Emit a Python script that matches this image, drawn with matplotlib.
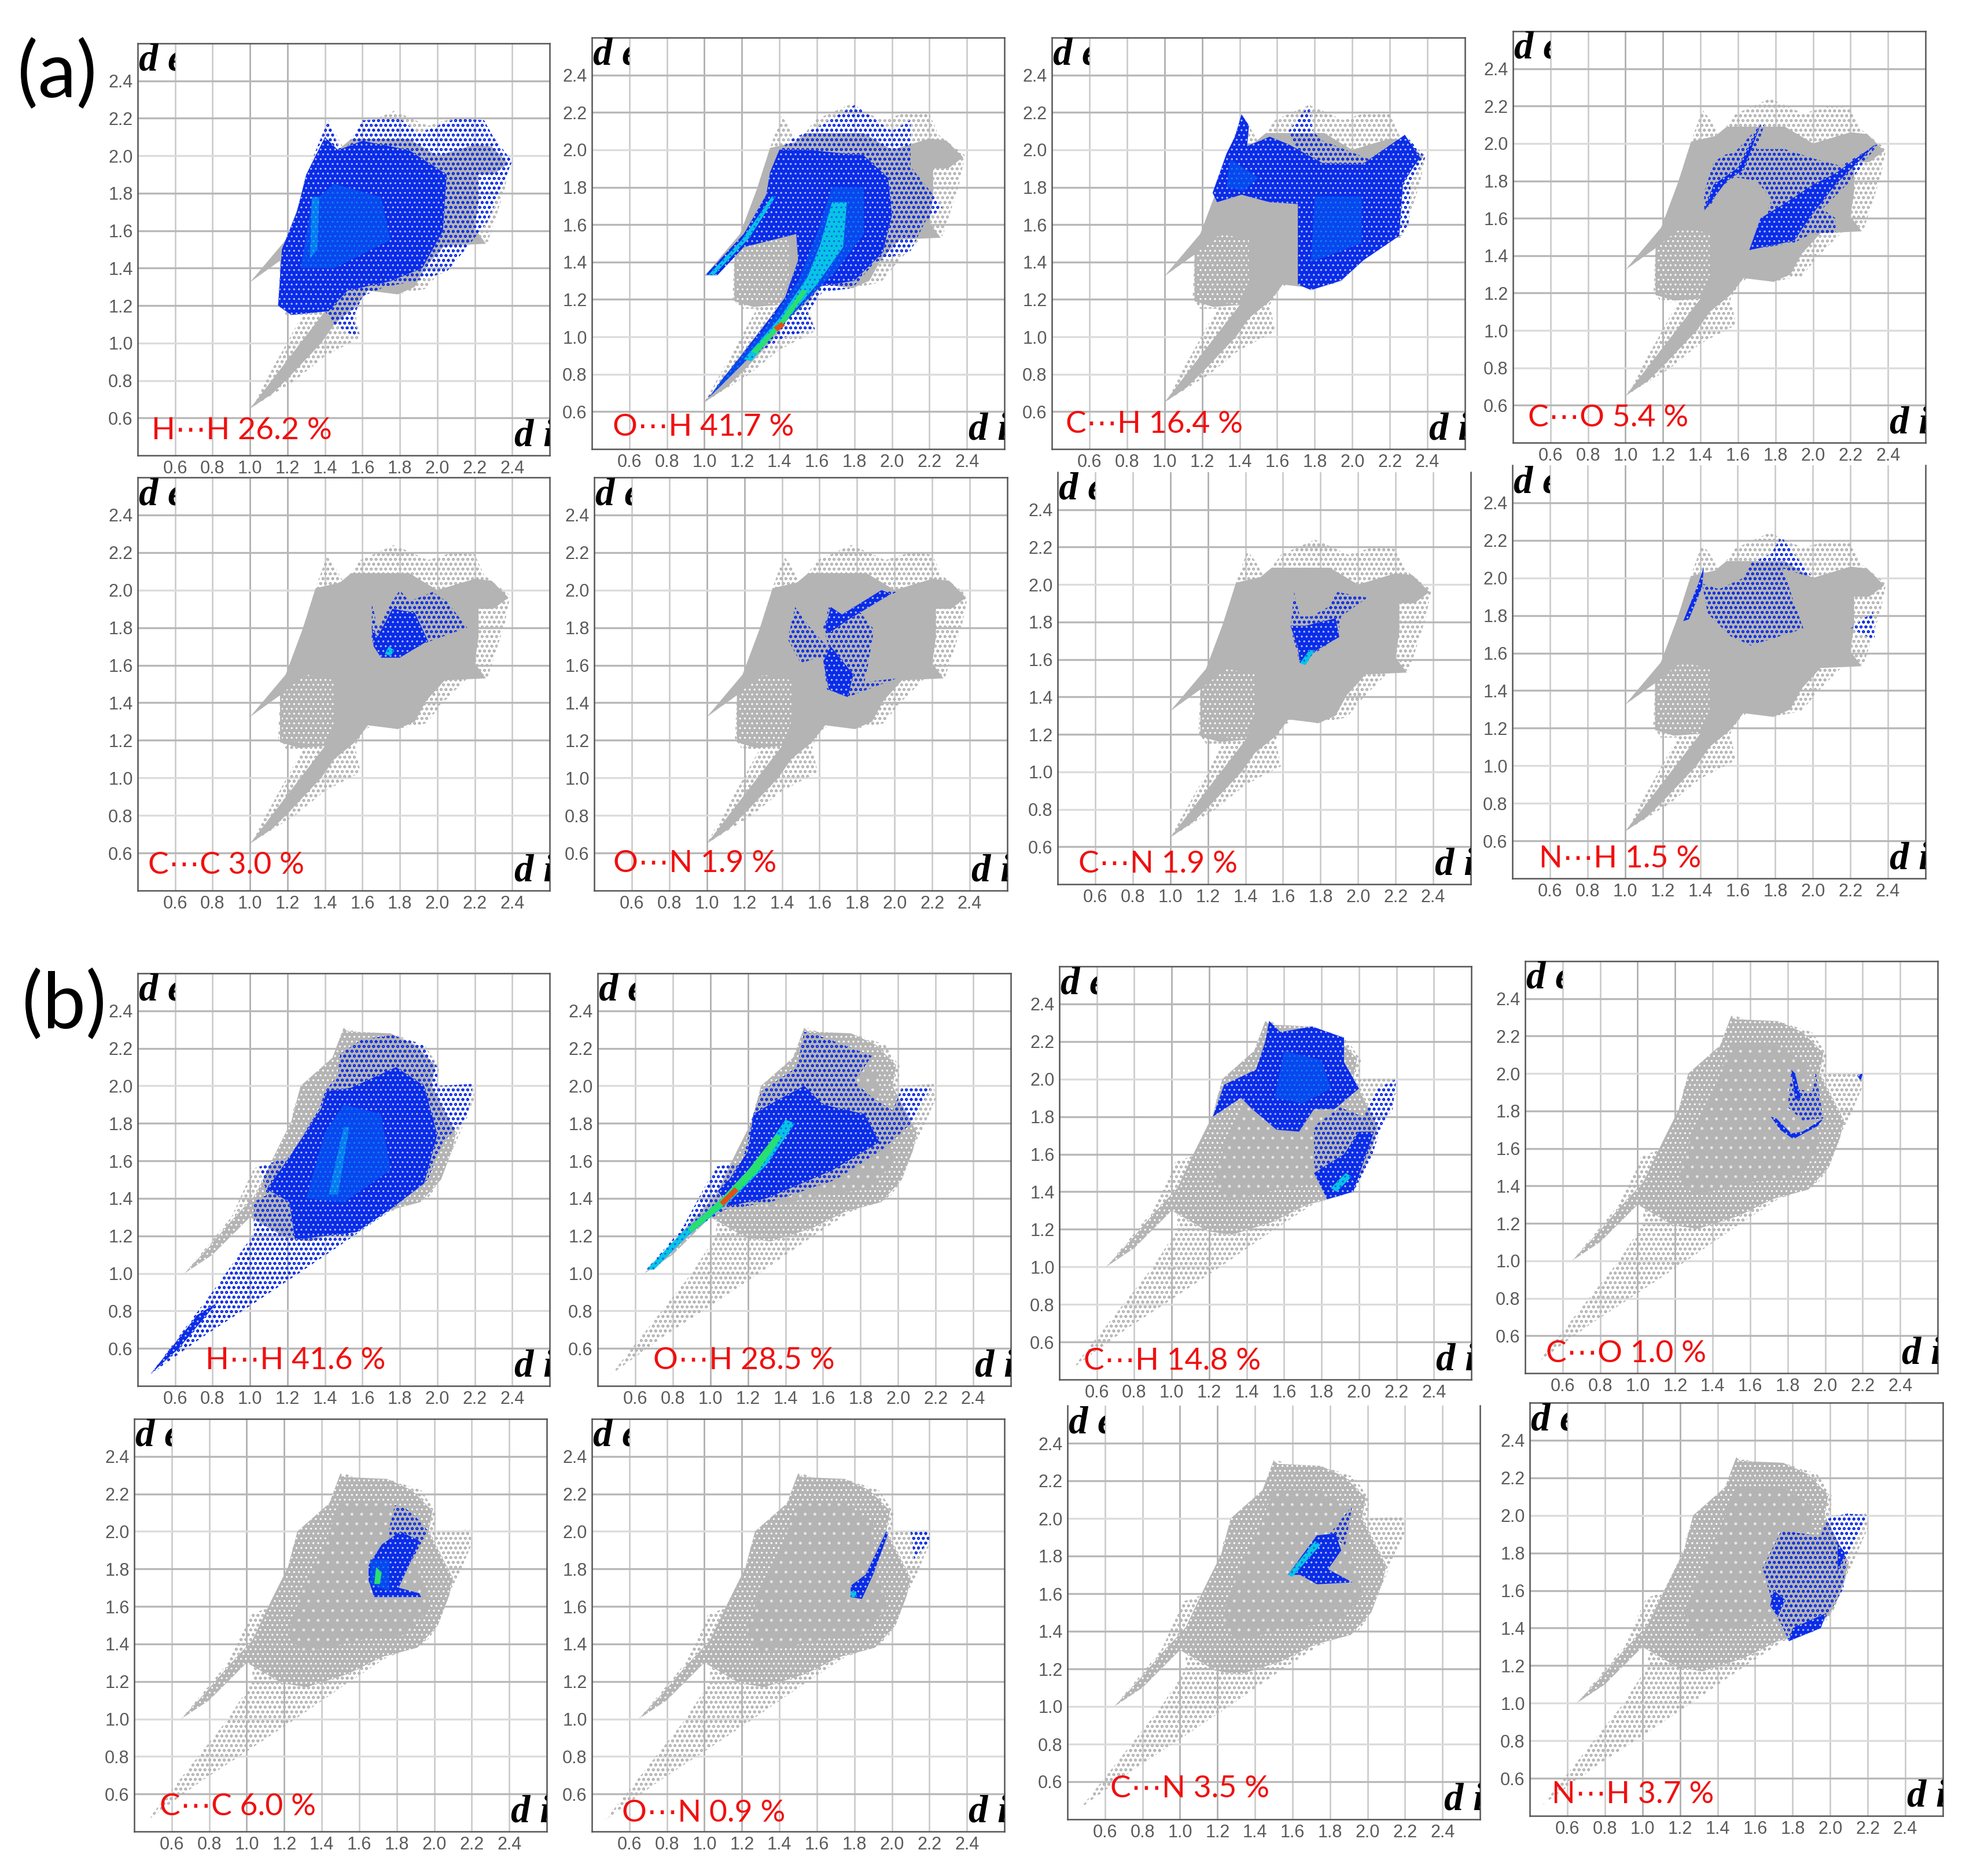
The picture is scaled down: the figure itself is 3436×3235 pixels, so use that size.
import matplotlib
matplotlib.use('Agg')
from matplotlib import pyplot as plt
from matplotlib.transforms import Bbox, TransformedBbox

# Fingerprint outlines (di, de).
grey_a_outer = [(1.0, 0.65), (1.24, 0.8), (1.4, 0.93), (1.59, 1.03), (1.56, 1.17), (1.6, 1.24), (1.66, 1.29), (1.78, 1.26),
                (1.94, 1.29), (2.03, 1.4), (2.16, 1.53), (2.27, 1.54), (2.3, 1.63), (2.36, 1.82), (2.39, 1.97),
                (2.25, 2.08), (2.2, 2.19), (2.08, 2.2), (1.95, 2.16), (1.77, 2.24), (1.59, 2.16), (1.5, 2.04),
                (1.45, 2.13), (1.41, 2.18), (1.36, 2.04), (1.28, 1.79), (1.22, 1.58), (1.0, 1.325), (1.16, 1.44),
                (1.15, 1.21), (1.19, 1.15), (1.28, 1.15)]
grey_a_core = [(1.0, 0.65), (1.12, 0.73), (1.22, 0.83), (1.38, 1.0), (1.45, 1.1), (1.56, 1.19), (1.63, 1.28), (1.79, 1.26),
               (1.88, 1.3), (1.94, 1.41), (2.04, 1.52), (2.26, 1.53), (2.2, 1.61), (2.22, 1.75), (2.22, 1.9), (2.3, 1.9),
               (2.38, 1.96), (2.29, 2.05), (2.2, 2.06), (2.0, 2.0), (1.85, 2.09), (1.54, 2.09), (1.48, 2.04), (1.35, 2.01),
               (1.28, 1.79), (1.19, 1.55), (1.0, 1.325), (1.16, 1.44), (1.16, 1.19), (1.26, 1.16), (1.4, 1.17)]
grey_a_speck = [(1.17, 1.2), (1.17, 1.45), (1.3, 1.55), (1.45, 1.52), (1.45, 1.3), (1.4, 1.17)]
grey_b_outer = [(0.47, 0.46), (0.9, 1.0), (1.03, 1.2), (1.03, 1.33), (0.9, 1.2), (0.65, 1.0), (0.9, 1.3), (1.02, 1.56),
                (1.2, 1.62), (1.23, 1.87), (1.27, 1.98), (1.48, 2.12), (1.52, 2.31), (1.59, 2.28), (1.78, 2.27),
                (1.93, 2.22), (2.01, 2.1), (2.0, 2.0), (2.19, 2.01), (2.2, 1.93), (2.1, 1.7), (2.0, 1.47),
                (1.95, 1.4), (1.75, 1.33), (1.55, 1.2), (1.26, 1.0), (0.99, 0.82), (0.76, 0.67)]
grey_b_core = [(0.65, 1.0), (0.8, 1.1), (1.0, 1.3), (1.19, 1.19), (1.32, 1.17), (1.54, 1.24), (1.72, 1.33),
               (1.91, 1.38), (2.02, 1.5), (2.08, 1.66), (2.1, 1.75), (1.97, 2.0), (1.99, 2.11), (1.88, 2.22),
               (1.75, 2.28), (1.52, 2.29), (1.5, 2.31), (1.44, 2.15), (1.27, 2.0), (1.22, 1.81), (1.13, 1.63),
               (1.03, 1.42), (0.9, 1.28), (0.78, 1.14)]
grey_b_solid = [(1.22, 1.45), (1.3, 1.7), (1.42, 1.95), (1.5, 2.15), (1.75, 2.15), (1.9, 2.05), (1.9, 1.85), (1.98, 1.6),
                (1.85, 1.45), (1.6, 1.42), (1.3, 1.35)]

# Contact regions, panels (a)
hh_a_dots = [(1.15, 1.2), (1.22, 1.15), (1.4, 1.17), (1.45, 1.1), (1.55, 1.04), (1.58, 1.05), (1.55, 1.13), (1.6, 1.25),
             (1.72, 1.3), (1.88, 1.33), (2.05, 1.38), (2.15, 1.5), (2.27, 1.65), (2.35, 1.85), (2.4, 1.97), (2.3, 2.1),
             (2.25, 2.19), (2.1, 2.2), (1.9, 2.12), (1.8, 2.2), (1.6, 2.19), (1.52, 2.05), (1.47, 2.05), (1.42, 2.19),
             (1.38, 2.1), (1.3, 1.9), (1.25, 1.7), (1.17, 1.5)]
hh_a_dense = [(1.15, 1.2), (1.22, 1.15), (1.42, 1.17), (1.52, 1.28), (1.75, 1.33), (1.92, 1.4), (2.03, 1.6), (2.05, 1.9),
              (1.85, 2.03), (1.6, 2.08), (1.47, 2.03), (1.4, 2.1), (1.3, 1.9), (1.25, 1.7), (1.17, 1.5)]
hh_a_mid = [(1.27, 1.4), (1.33, 1.75), (1.45, 1.85), (1.7, 1.78), (1.75, 1.55), (1.45, 1.4)]
hh_a_hot = [(1.32, 1.45), (1.33, 1.78), (1.37, 1.78), (1.36, 1.5)]

oh_a_dots = [(1.006, 0.66), (1.21, 0.87), (1.43, 1.0), (1.59, 1.04), (1.55, 1.13), (1.63, 1.24), (1.79, 1.26),
             (1.91, 1.4), (2.1, 1.46), (2.18, 1.62), (2.27, 1.69), (2.22, 1.76), (2.1, 1.91), (2.1, 2.16), (2.0, 2.1),
             (1.8, 2.24), (1.62, 2.13), (1.47, 2.06), (1.4, 2.0), (1.35, 1.88), (1.33, 1.76), (1.21, 1.55),
             (1.006, 1.33), (1.07, 1.33), (1.21, 1.48), (1.49, 1.55), (1.5, 1.41), (1.43, 1.21), (1.35, 1.1)]
oh_a_dense = [(1.02, 0.67), (1.21, 0.9), (1.42, 1.17), (1.62, 1.27), (1.8, 1.3), (1.95, 1.45), (2.0, 1.65), (1.98, 1.85),
              (1.85, 1.97), (1.55, 2.0), (1.4, 2.0), (1.35, 1.88), (1.33, 1.76), (1.21, 1.55), (1.006, 1.33),
              (1.07, 1.33), (1.21, 1.48), (1.49, 1.55), (1.5, 1.41), (1.43, 1.21), (1.35, 1.1)]
oh_a_mid = [(1.1, 0.78), (1.35, 1.08), (1.5, 1.3), (1.6, 1.55), (1.68, 1.8), (1.85, 1.8), (1.85, 1.55), (1.7, 1.35),
            (1.5, 1.15), (1.3, 0.95), (1.03, 0.68)]
oh_a_cyan = [(1.21, 0.88), (1.4, 1.1), (1.55, 1.32), (1.62, 1.5), (1.68, 1.72), (1.76, 1.72), (1.74, 1.48), (1.6, 1.28),
             (1.42, 1.07), (1.25, 0.87)]
oh_a_ridge = [(1.02, 1.33), (1.2, 1.52), (1.36, 1.75), (1.38, 1.75), (1.24, 1.53), (1.05, 1.33)]
oh_a_green = [(1.25, 0.92), (1.4, 1.08), (1.52, 1.25), (1.55, 1.25), (1.44, 1.09), (1.28, 0.91)]
oh_a_red = [(1.37, 1.05), (1.41, 1.08), (1.43, 1.06), (1.39, 1.03)]

ch_a_dots = [(1.66, 2.1), (1.77, 2.24), (1.79, 2.1), (1.84, 2.05), (2.09, 1.95), (2.28, 2.08), (2.39, 1.96), (2.31, 1.82),
             (2.3, 1.6), (2.25, 1.54), (2.06, 1.41), (1.94, 1.3), (1.9, 1.7), (1.7, 2.0)]
ch_a_dense = [(1.256, 1.77), (1.33, 1.98), (1.375, 2.07), (1.41, 2.19), (1.45, 2.13), (1.44, 2.02), (1.56, 2.07),
              (1.66, 2.03), (1.84, 1.93), (2.05, 1.92), (2.28, 2.08), (2.36, 1.96), (2.27, 1.82), (2.25, 1.54),
              (2.06, 1.41), (1.94, 1.3), (1.78, 1.25), (1.71, 1.28), (1.71, 1.71), (1.56, 1.72), (1.41, 1.76),
              (1.28, 1.72)]
ch_a_mid = [(1.33, 1.8), (1.35, 1.95), (1.5, 1.85), (1.42, 1.78)]
ch_a_mid2 = [(1.78, 1.4), (1.8, 1.75), (2.05, 1.75), (2.05, 1.5)]

co_a_dots = [(1.42, 1.64), (1.42, 1.74), (1.47, 1.9), (1.53, 1.94), (1.58, 1.95), (1.72, 2.1), (1.74, 2.1), (1.7, 1.97),
             (1.85, 1.97), (2.0, 1.92), (2.15, 1.88), (2.35, 2.0), (2.2, 1.8), (2.05, 1.65), (2.12, 1.6), (2.12, 1.52),
             (2.0, 1.52), (1.9, 1.47), (1.66, 1.43), (1.72, 1.55), (1.78, 1.7), (1.7, 1.8), (1.58, 1.82), (1.5, 1.76),
             (1.46, 1.68)]
co_a_dense = [(1.66, 1.43), (1.72, 1.6), (1.85, 1.68), (2.0, 1.78), (2.12, 1.84), (2.34, 2.0), (2.12, 1.78), (1.98, 1.6),
              (1.9, 1.48)]
co_a_dense2 = [(1.42, 1.64), (1.47, 1.78), (1.6, 1.87), (1.72, 2.1), (1.63, 1.86), (1.54, 1.8), (1.45, 1.68)]

cc_a_dots = [(1.65, 1.94), (1.65, 1.74), (1.68, 1.66), (1.79, 1.64), (1.94, 1.72), (2.16, 1.8), (2.05, 1.94), (1.975, 1.99),
             (1.85, 1.94), (1.8, 2.0), (1.74, 1.91), (1.68, 1.8)]
cc_a_dense = [(1.65, 1.8), (1.66, 1.7), (1.7, 1.64), (1.8, 1.64), (1.95, 1.73), (1.88, 1.88), (1.76, 1.9), (1.68, 1.75)]
cc_a_hot = [(1.72, 1.66), (1.74, 1.7), (1.77, 1.68), (1.75, 1.65)]

on_a_dots = [(1.47, 1.91), (1.43, 1.74), (1.5, 1.61), (1.59, 1.64), (1.62, 1.63), (1.64, 1.47), (1.75, 1.43), (2.01, 1.53),
             (1.84, 1.51), (1.86, 1.61), (1.89, 1.79), (1.81, 1.89), (2.01, 1.99), (1.93, 2.0), (1.7, 1.86), (1.65, 1.91),
             (1.62, 1.8), (1.65, 1.69), (1.55, 1.8)]
on_a_dense = [(1.63, 1.8), (1.66, 1.91), (1.72, 1.87), (1.93, 2.0), (1.98, 1.98), (1.75, 1.84), (1.65, 1.77)]
on_a_dense2 = [(1.62, 1.62), (1.65, 1.47), (1.75, 1.43), (1.78, 1.55), (1.66, 1.7)]

cn_a_dots = [(1.66, 1.96), (1.64, 1.77), (1.69, 1.58), (1.78, 1.64), (1.89, 1.72), (1.91, 1.83), (2.05, 1.93), (1.89, 1.96),
             (1.84, 1.88), (1.75, 1.83), (1.69, 1.83)]
cn_a_dense = [(1.64, 1.78), (1.68, 1.66), (1.69, 1.58), (1.78, 1.65), (1.9, 1.72), (1.88, 1.82), (1.72, 1.78)]
cn_a_hot = [(1.69, 1.58), (1.74, 1.65), (1.77, 1.65), (1.72, 1.57)]

nh_a_dots = [(1.41, 1.97), (1.44, 1.81), (1.56, 1.69), (1.67, 1.64), (1.95, 1.73), (1.91, 1.84), (1.84, 2.05), (2.0, 2.0),
             (1.83, 2.22), (1.78, 2.13), (1.67, 2.08), (1.63, 2.0), (1.5, 1.94)]
nh_a_streak = [(1.31, 1.77), (1.39, 1.97), (1.42, 2.06), (1.41, 1.95), (1.34, 1.78)]
nh_a_dots2 = [(2.2, 1.73), (2.32, 1.82), (2.33, 1.67)]

# Contact regions, panels (b)
hh_b_dots = [(0.47, 0.465), (0.82, 0.93), (1.02, 1.21), (1.02, 1.38), (1.09, 1.42), (1.05, 1.57), (1.21, 1.62), (1.37, 1.88),
             (1.4, 1.97), (1.47, 2.06), (1.48, 2.17), (1.6, 2.25), (1.76, 2.27), (1.92, 2.22), (2.0, 2.1), (2.0, 2.0),
             (2.19, 2.01), (2.16, 1.83), (2.03, 1.7), (1.95, 1.5), (1.78, 1.36), (1.54, 1.19), (1.26, 1.0), (0.99, 0.82),
             (0.76, 0.67)]
hh_b_dense = [(1.21, 1.62), (1.38, 1.88), (1.41, 1.97), (1.54, 1.99), (1.78, 2.1), (1.93, 2.0), (2.0, 1.74), (1.93, 1.48),
              (1.76, 1.35), (1.57, 1.22), (1.24, 1.18), (1.21, 1.38), (1.09, 1.45)]
hh_b_mid = [(1.3, 1.4), (1.4, 1.75), (1.5, 1.9), (1.7, 1.85), (1.75, 1.55), (1.5, 1.38)]
hh_b_hot = [(1.42, 1.42), (1.47, 1.65), (1.5, 1.78), (1.53, 1.78), (1.5, 1.6), (1.47, 1.42)]
hh_b_tip = [(0.47, 0.465), (0.72, 0.78), (0.82, 0.84), (0.62, 0.6)]

oh_b_dots = [(0.65, 1.01), (0.85, 1.24), (1.03, 1.57), (1.17, 1.59), (1.22, 1.82), (1.27, 1.97), (1.46, 2.1), (1.5, 2.29),
             (1.63, 2.25), (1.86, 2.16), (1.77, 2.02), (1.86, 1.94), (1.97, 1.87), (2.02, 1.99), (2.18, 2.0), (2.07, 1.8),
             (1.93, 1.67), (1.67, 1.5), (1.32, 1.38), (1.08, 1.34), (0.85, 1.2), (0.68, 1.01)]
oh_b_dense = [(1.2, 1.65), (1.23, 1.85), (1.35, 1.92), (1.5, 2.0), (1.6, 1.9), (1.82, 1.85), (1.9, 1.7), (1.65, 1.55),
              (1.3, 1.4), (1.1, 1.36), (1.04, 1.44), (1.1, 1.5)]
oh_b_ridge = [(0.66, 1.02), (0.85, 1.22), (1.05, 1.39), (1.25, 1.6), (1.4, 1.82), (1.45, 1.8), (1.3, 1.58), (1.1, 1.38),
              (0.88, 1.2), (0.7, 1.02)]
oh_b_green = [(0.88, 1.24), (1.05, 1.39), (1.2, 1.55), (1.35, 1.74), (1.38, 1.73), (1.25, 1.54), (1.08, 1.37), (0.9, 1.22)]
oh_b_red = [(1.05, 1.38), (1.13, 1.46), (1.15, 1.44), (1.07, 1.36)]

ch_b_dense = [(1.22, 1.8), (1.28, 1.97), (1.45, 2.05), (1.5, 2.2), (1.52, 2.31), (1.58, 2.25), (1.75, 2.28), (1.92, 2.22),
              (1.92, 2.09), (2.0, 1.95), (1.87, 1.84), (1.76, 1.84), (1.68, 1.72), (1.56, 1.73), (1.43, 1.84), (1.37, 1.9)]
ch_b_dots = [(1.76, 1.75), (1.76, 1.53), (1.83, 1.36), (1.97, 1.4), (2.06, 1.56), (2.12, 1.75), (2.18, 1.84), (2.2, 2.0),
             (2.1, 1.95), (2.02, 1.8), (1.9, 1.85)]
ch_b_dense2 = [(1.76, 1.5), (1.83, 1.36), (1.97, 1.4), (2.08, 1.72), (2.0, 1.72), (1.92, 1.6)]
ch_b_mid = [(1.55, 1.9), (1.6, 2.15), (1.8, 2.1), (1.85, 1.95), (1.7, 1.87)]
ch_b_hot = [(1.85, 1.42), (1.93, 1.5), (1.96, 1.48), (1.88, 1.4)]

co_b_dots = [(1.82, 2.02), (1.84, 1.92), (1.93, 1.9), (1.95, 2.01), (1.99, 1.76), (1.88, 1.75), (1.8, 1.82)]
co_b_dense = [(1.71, 1.77), (1.76, 1.7), (1.83, 1.65), (1.96, 1.72), (1.99, 1.76), (1.88, 1.69), (1.82, 1.68), (1.74, 1.76)]
co_b_dense2 = [(1.82, 2.02), (1.84, 1.86), (1.87, 1.87), (1.84, 2.0)]
co_b_dense3 = [(2.17, 1.99), (2.2, 2.0), (2.19, 1.96)]

cc_b_dots = [(1.76, 2.02), (1.79, 2.14), (1.84, 2.13), (1.9, 2.08), (1.97, 2.0), (1.87, 1.83), (1.76, 1.85)]
cc_b_dense = [(1.65, 1.82), (1.65, 1.74), (1.68, 1.65), (1.93, 1.65), (1.92, 1.67), (1.81, 1.7), (1.87, 1.83), (1.92, 1.95),
              (1.82, 2.0), (1.72, 1.93)]
cc_b_mid = [(1.66, 1.72), (1.66, 1.85), (1.76, 1.85), (1.76, 1.68)]
cc_b_hot = [(1.68, 1.72), (1.69, 1.81), (1.72, 1.78), (1.71, 1.72)]

on_b_dense = [(1.78, 1.65), (1.78, 1.71), (1.86, 1.77), (1.97, 2.0), (1.98, 1.99), (1.9, 1.77), (1.84, 1.64)]
on_b_hot = [(1.78, 1.65), (1.78, 1.68), (1.81, 1.68), (1.81, 1.65)]
on_b_dots = [(2.1, 2.0), (2.2, 2.0), (2.2, 1.95), (2.12, 1.85)]

cn_b_dense = [(1.575, 1.7), (1.73, 1.91), (1.83, 1.92), (1.86, 1.83), (1.79, 1.73), (1.92, 1.66), (1.73, 1.65), (1.64, 1.7)]
cn_b_dots = [(1.8, 1.92), (1.92, 2.07), (1.88, 1.85)]
cn_b_hot = [(1.575, 1.7), (1.72, 1.88), (1.75, 1.86), (1.6, 1.69)]

nh_b_dots = [(1.74, 1.92), (1.64, 1.72), (1.7, 1.5), (1.78, 1.33), (1.95, 1.4), (2.07, 1.61), (2.09, 1.79), (2.2, 2.0),
             (2.09, 2.01), (1.98, 1.98), (1.95, 1.89)]
nh_b_dense = [(1.78, 1.33), (1.95, 1.4), (1.98, 1.48), (1.8, 1.4)]
nh_b_dense2 = [(1.68, 1.52), (1.72, 1.46), (1.76, 1.55), (1.7, 1.6)]
nh_b_dense3 = [(2.04, 1.7), (2.08, 1.8), (2.04, 1.85)]

contact_labels = ['H\u22efH 26.2 %', 'O\u22efH 41.7 %', 'C\u22efH 16.4 %', 'C\u22efO 5.4 %',
                  'C\u22efC 3.0 %', 'O\u22efN 1.9 %', 'C\u22efN 1.9 %', 'N\u22efH 1.5 %',
                  'H\u22efH 41.6 %', 'O\u22efH 28.5 %', 'C\u22efH 14.8 %', 'C\u22efO 1.0 %',
                  'C\u22efC 6.0 %', 'O\u22efN 0.9 %', 'C\u22efN 3.5 %', 'N\u22efH 3.7 %']
tick_values = [0.6, 0.8, 1.0, 1.2, 1.4, 1.6, 1.8, 2.0, 2.2, 2.4]

panel_regions = [
    [('blue_dots', hh_a_dots), ('blue', hh_a_dense), ('mid', hh_a_mid), ('light', hh_a_hot)],
    [('blue_dots', oh_a_dots), ('blue', oh_a_dense), ('mid', oh_a_mid), ('cyan', oh_a_cyan), ('cyan', oh_a_ridge),
     ('green', oh_a_green), ('red', oh_a_red)],
    [('blue_dots', ch_a_dots), ('blue', ch_a_dense), ('mid', ch_a_mid), ('mid', ch_a_mid2)],
    [('blue_dots', co_a_dots), ('blue', co_a_dense), ('blue', co_a_dense2)],
    [('blue_dots', cc_a_dots), ('blue', cc_a_dense), ('cyan', cc_a_hot)],
    [('blue_dots', on_a_dots), ('blue', on_a_dense), ('blue', on_a_dense2)],
    [('blue_dots', cn_a_dots), ('blue', cn_a_dense), ('cyan', cn_a_hot)],
    [('blue_dots', nh_a_dots), ('blue', nh_a_streak), ('blue_dots', nh_a_dots2)],
    [('blue_dots', hh_b_dots), ('blue', hh_b_dense), ('mid', hh_b_mid), ('light', hh_b_hot), ('blue', hh_b_tip)],
    [('blue_dots', oh_b_dots), ('blue', oh_b_dense), ('cyan', oh_b_ridge), ('green', oh_b_green), ('red', oh_b_red)],
    [('blue', ch_b_dense), ('mid', ch_b_mid), ('blue_dots', ch_b_dots), ('blue', ch_b_dense2), ('cyan', ch_b_hot)],
    [('blue_dots', co_b_dots), ('blue', co_b_dense), ('blue', co_b_dense2), ('blue', co_b_dense3)],
    [('blue_dots', cc_b_dots), ('blue', cc_b_dense), ('mid', cc_b_mid), ('green', cc_b_hot)],
    [('blue', on_b_dense), ('cyan', on_b_hot), ('blue_dots', on_b_dots)],
    [('blue', cn_b_dense), ('blue_dots', cn_b_dots), ('cyan', cn_b_hot)],
    [('blue_dots', nh_b_dots), ('blue', nh_b_dense), ('blue', nh_b_dense2), ('blue', nh_b_dense3)],
]

# Layout in pixels of the picture: left, right, top, bottom of each box
W, H = 3437, 3235
boxes = [(238, 950, 75, 787), (1023, 1736, 65, 776), (1818, 2532, 65, 776), (2615, 3328, 54, 765),
         (238, 950, 825, 1539), (1027, 1741, 825, 1539), (1828, 2542, 816, 1528), (2614, 3328, 804, 1518),
         (238, 950, 1682, 2395), (1033, 1747, 1682, 2395), (1831, 2543, 1670, 2384), (2636, 3349, 1661, 2373),
         (232, 945, 2452, 3165), (1023, 1736, 2452, 3165), (1845, 2558, 2429, 3144), (2644, 3358, 2424, 3138)]
label_xy = [(262, 759), (1059, 753), (1842, 748), (2641, 737),
            (256, 1510), (1060, 1507), (1864, 1508), (2660, 1499),
            (355, 2366), (1129, 2366), (1873, 2367), (2672, 2354),
            (276, 3137), (1075, 3148), (1919, 3106), (2682, 3116)]
open_top = [6, 7, 14]

GREY = '#b4b4b4'
BLUE = '#0a2ce8'
styles = {
    'grey_dots': dict(facecolor='none', edgecolor=GREY, hatch='oo'),
    'grey_speck': dict(facecolor=GREY, edgecolor='white', hatch='..'),
    'grey_few': dict(facecolor=GREY, edgecolor='#e6e6e6', hatch='.'),
    'grey': dict(facecolor=GREY, edgecolor=GREY),
    'blue_dots': dict(facecolor='none', edgecolor=BLUE, hatch='oo'),
    'blue': dict(facecolor=BLUE, edgecolor='#b4c0fa', hatch='..'),
    'mid': dict(facecolor='#0a46ee', edgecolor='#0a84f2', hatch='..'),
    'light': dict(facecolor='#0a78f2', edgecolor='#10c0ea', hatch='..'),
    'cyan': dict(facecolor='#08c4e4', edgecolor='#0a62f4', hatch='..'),
    'green': dict(facecolor='#28e070', edgecolor='#28e070'),
    'red': dict(facecolor='#e0501c', edgecolor='#e0501c'),
}
regions_a = [('grey_dots', grey_a_outer), ('grey', grey_a_core), ('grey_speck', grey_a_speck)]
regions_b = [('grey_dots', grey_b_outer), ('grey_speck', grey_b_core), ('grey_few', grey_b_solid)]

plt.rcParams['hatch.linewidth'] = 1.2
tick_font = ['Liberation Sans Narrow', 'Liberation Sans']
label_font = ['Lato', 'DejaVu Sans']
light_rows = [0.8, 1.0, 2.0]
dark_columns = [1.0, 1.2]


def draw_regions(ax, regions):
    for kind, pts in regions:
        xs, ys = zip(*pts)
        ax.fill(xs, ys, linewidth=0, zorder=3, **styles[kind])


def clipped_letters(ax, x, y, text, x0, x1, y0, y1):
    t = ax.text(x, y, text, family='Liberation Serif', fontweight='bold', style='italic', fontsize=48,
                color='black', zorder=6, va='baseline', ha='left')
    t.set_clip_box(TransformedBbox(Bbox([[x0, y0], [x1, y1]]), ax.transData))
    t.set_clip_on(True)


fig = plt.figure(figsize=(W / 100, H / 100), dpi=100, facecolor='white')

for i, (left, right, top, bottom) in enumerate(boxes):
    ax = fig.add_axes([left / W, 1 - bottom / H, (right - left) / W, (bottom - top) / H])
    ax.set_xlim(0.4, 2.6)
    ax.set_ylim(0.4, 2.6)
    ax.set_xticks(tick_values)
    ax.set_yticks(tick_values)
    ax.set_xticklabels(['%.1f' % v for v in tick_values], family=tick_font, fontsize=22, color='#5a5a5a')
    ax.set_yticklabels(['%.1f' % v for v in tick_values], family=tick_font, fontsize=22, color='#5a5a5a')
    ax.tick_params(length=0, pad=6)
    ax.grid(True, axis='y', color='#b8b8b8', linewidth=2.4, zorder=0)
    ax.grid(True, axis='x', color='#cacaca', linewidth=1.9, zorder=0)
    for v, line in zip(tick_values, ax.get_ygridlines()):
        if v in light_rows:
            line.set_color('#dcdcdc')
    for v, line in zip(tick_values, ax.get_xgridlines()):
        if v in dark_columns:
            line.set_color('#adadad')
    ax.set_axisbelow(True)
    for spine in ax.spines.values():
        spine.set_color('#555555')
        spine.set_linewidth(1.8)
    if i in open_top:
        ax.spines['top'].set_visible(False)

    draw_regions(ax, regions_a if i < 8 else regions_b)
    draw_regions(ax, panel_regions[i])

    clipped_letters(ax, 0.405, 2.455, 'd e', 0.4, 0.6, 2.4, 2.6)
    clipped_letters(ax, 2.41, 0.45, 'd i', 2.3, 2.6, 0.4, 0.7)
    fig.text(label_xy[i][0] / W, 1 - label_xy[i][1] / H, contact_labels[i], family=label_font, fontsize=38.5,
             color='#f01010', zorder=7)

fig.text(30 / W, 1 - 167 / H, '(a)', family=label_font, fontsize=96, color='black')
fig.text(38 / W, 1 - 1775 / H, '(b)', family=label_font, fontsize=96, color='black')

plt.savefig('out.png', dpi=100, facecolor='white')
